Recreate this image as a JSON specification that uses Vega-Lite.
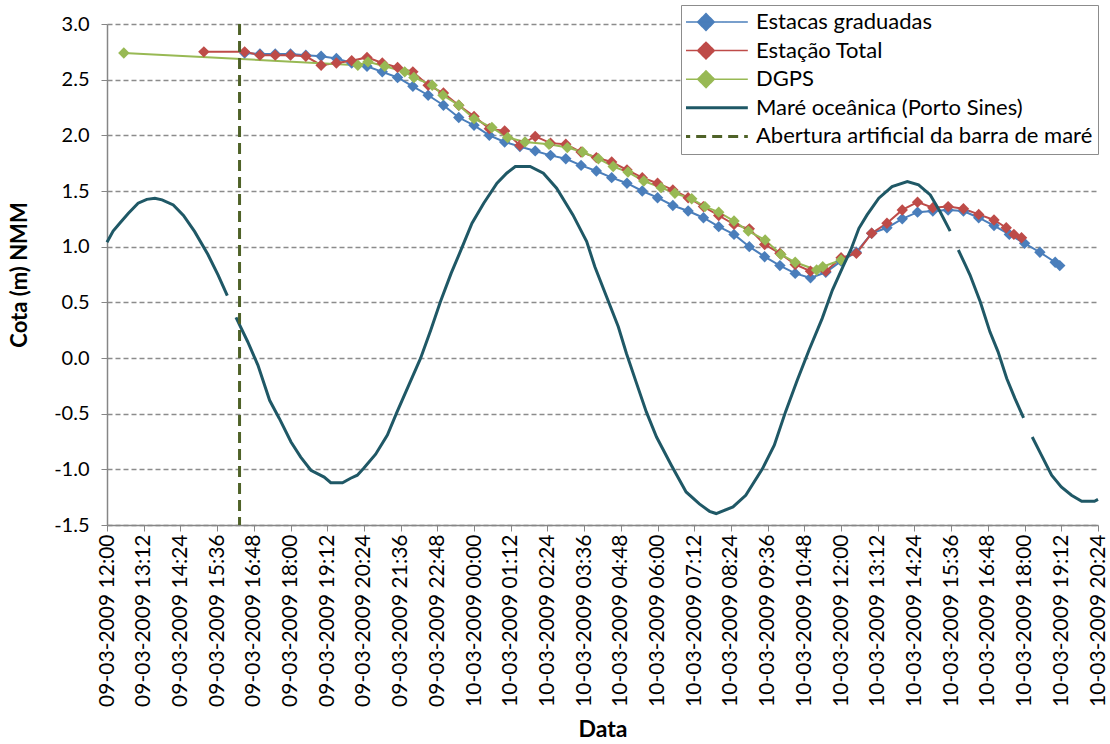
{
  "$schema": "https://vega.github.io/schema/vega-lite/v6.json",
  "width": 991,
  "height": 501,
  "autosize": "none",
  "padding": {"left": 107, "top": 24, "right": 12, "bottom": 219},
  "background": "white",
  "config": {"font": "Lato", "view": {"stroke": null}},
  "datasets": {
    "obs": [
      {"s": "Estacas graduadas", "t": "2009-03-09T16:30", "v": 2.74},
      {"s": "Estacas graduadas", "t": "2009-03-09T17:00", "v": 2.73},
      {"s": "Estacas graduadas", "t": "2009-03-09T17:30", "v": 2.73},
      {"s": "Estacas graduadas", "t": "2009-03-09T18:00", "v": 2.73},
      {"s": "Estacas graduadas", "t": "2009-03-09T18:30", "v": 2.72},
      {"s": "Estacas graduadas", "t": "2009-03-09T19:00", "v": 2.71},
      {"s": "Estacas graduadas", "t": "2009-03-09T19:30", "v": 2.69},
      {"s": "Estacas graduadas", "t": "2009-03-09T20:00", "v": 2.65},
      {"s": "Estacas graduadas", "t": "2009-03-09T20:30", "v": 2.62},
      {"s": "Estacas graduadas", "t": "2009-03-09T21:00", "v": 2.57},
      {"s": "Estacas graduadas", "t": "2009-03-09T21:30", "v": 2.52},
      {"s": "Estacas graduadas", "t": "2009-03-09T22:00", "v": 2.44},
      {"s": "Estacas graduadas", "t": "2009-03-09T22:30", "v": 2.36},
      {"s": "Estacas graduadas", "t": "2009-03-09T23:00", "v": 2.27},
      {"s": "Estacas graduadas", "t": "2009-03-09T23:30", "v": 2.16},
      {"s": "Estacas graduadas", "t": "2009-03-10T00:00", "v": 2.09},
      {"s": "Estacas graduadas", "t": "2009-03-10T00:30", "v": 2.00},
      {"s": "Estacas graduadas", "t": "2009-03-10T01:00", "v": 1.94},
      {"s": "Estacas graduadas", "t": "2009-03-10T01:30", "v": 1.90},
      {"s": "Estacas graduadas", "t": "2009-03-10T02:00", "v": 1.86},
      {"s": "Estacas graduadas", "t": "2009-03-10T02:30", "v": 1.82},
      {"s": "Estacas graduadas", "t": "2009-03-10T03:00", "v": 1.79},
      {"s": "Estacas graduadas", "t": "2009-03-10T03:30", "v": 1.73},
      {"s": "Estacas graduadas", "t": "2009-03-10T04:00", "v": 1.68},
      {"s": "Estacas graduadas", "t": "2009-03-10T04:30", "v": 1.62},
      {"s": "Estacas graduadas", "t": "2009-03-10T05:00", "v": 1.57},
      {"s": "Estacas graduadas", "t": "2009-03-10T05:30", "v": 1.50},
      {"s": "Estacas graduadas", "t": "2009-03-10T06:00", "v": 1.44},
      {"s": "Estacas graduadas", "t": "2009-03-10T06:30", "v": 1.37},
      {"s": "Estacas graduadas", "t": "2009-03-10T07:00", "v": 1.32},
      {"s": "Estacas graduadas", "t": "2009-03-10T07:30", "v": 1.26},
      {"s": "Estacas graduadas", "t": "2009-03-10T08:00", "v": 1.18},
      {"s": "Estacas graduadas", "t": "2009-03-10T08:30", "v": 1.11},
      {"s": "Estacas graduadas", "t": "2009-03-10T09:00", "v": 1.00},
      {"s": "Estacas graduadas", "t": "2009-03-10T09:30", "v": 0.91},
      {"s": "Estacas graduadas", "t": "2009-03-10T10:00", "v": 0.83},
      {"s": "Estacas graduadas", "t": "2009-03-10T10:30", "v": 0.76},
      {"s": "Estacas graduadas", "t": "2009-03-10T11:00", "v": 0.72},
      {"s": "Estacas graduadas", "t": "2009-03-10T11:30", "v": 0.77},
      {"s": "Estacas graduadas", "t": "2009-03-10T12:00", "v": 0.87},
      {"s": "Estacas graduadas", "t": "2009-03-10T12:30", "v": 0.95},
      {"s": "Estacas graduadas", "t": "2009-03-10T13:00", "v": 1.12},
      {"s": "Estacas graduadas", "t": "2009-03-10T13:30", "v": 1.17},
      {"s": "Estacas graduadas", "t": "2009-03-10T14:00", "v": 1.25},
      {"s": "Estacas graduadas", "t": "2009-03-10T14:30", "v": 1.31},
      {"s": "Estacas graduadas", "t": "2009-03-10T15:00", "v": 1.32},
      {"s": "Estacas graduadas", "t": "2009-03-10T15:30", "v": 1.33},
      {"s": "Estacas graduadas", "t": "2009-03-10T16:00", "v": 1.32},
      {"s": "Estacas graduadas", "t": "2009-03-10T16:30", "v": 1.26},
      {"s": "Estacas graduadas", "t": "2009-03-10T17:00", "v": 1.19},
      {"s": "Estacas graduadas", "t": "2009-03-10T17:30", "v": 1.11},
      {"s": "Estacas graduadas", "t": "2009-03-10T18:00", "v": 1.03},
      {"s": "Estacas graduadas", "t": "2009-03-10T18:30", "v": 0.95},
      {"s": "Estacas graduadas", "t": "2009-03-10T19:00", "v": 0.86},
      {"s": "Estacas graduadas", "t": "2009-03-10T19:09", "v": 0.83},
      {"s": "Estação Total", "t": "2009-03-09T15:10", "v": 2.75},
      {"s": "Estação Total", "t": "2009-03-09T16:30", "v": 2.75},
      {"s": "Estação Total", "t": "2009-03-09T17:00", "v": 2.72},
      {"s": "Estação Total", "t": "2009-03-09T17:30", "v": 2.72},
      {"s": "Estação Total", "t": "2009-03-09T18:00", "v": 2.72},
      {"s": "Estação Total", "t": "2009-03-09T18:30", "v": 2.71},
      {"s": "Estação Total", "t": "2009-03-09T19:00", "v": 2.63},
      {"s": "Estação Total", "t": "2009-03-09T19:30", "v": 2.65},
      {"s": "Estação Total", "t": "2009-03-09T20:00", "v": 2.67},
      {"s": "Estação Total", "t": "2009-03-09T20:30", "v": 2.70},
      {"s": "Estação Total", "t": "2009-03-09T21:00", "v": 2.65},
      {"s": "Estação Total", "t": "2009-03-09T21:30", "v": 2.61},
      {"s": "Estação Total", "t": "2009-03-09T22:00", "v": 2.57},
      {"s": "Estação Total", "t": "2009-03-09T22:30", "v": 2.45},
      {"s": "Estação Total", "t": "2009-03-09T23:00", "v": 2.38},
      {"s": "Estação Total", "t": "2009-03-09T23:30", "v": 2.27},
      {"s": "Estação Total", "t": "2009-03-10T00:00", "v": 2.17},
      {"s": "Estação Total", "t": "2009-03-10T00:30", "v": 2.06},
      {"s": "Estação Total", "t": "2009-03-10T01:00", "v": 2.04},
      {"s": "Estação Total", "t": "2009-03-10T01:30", "v": 1.91},
      {"s": "Estação Total", "t": "2009-03-10T02:00", "v": 1.99},
      {"s": "Estação Total", "t": "2009-03-10T02:30", "v": 1.93},
      {"s": "Estação Total", "t": "2009-03-10T03:00", "v": 1.92},
      {"s": "Estação Total", "t": "2009-03-10T03:30", "v": 1.85},
      {"s": "Estação Total", "t": "2009-03-10T04:00", "v": 1.80},
      {"s": "Estação Total", "t": "2009-03-10T04:30", "v": 1.76},
      {"s": "Estação Total", "t": "2009-03-10T05:00", "v": 1.69},
      {"s": "Estação Total", "t": "2009-03-10T05:30", "v": 1.62},
      {"s": "Estação Total", "t": "2009-03-10T06:00", "v": 1.57},
      {"s": "Estação Total", "t": "2009-03-10T06:30", "v": 1.51},
      {"s": "Estação Total", "t": "2009-03-10T07:00", "v": 1.44},
      {"s": "Estação Total", "t": "2009-03-10T07:30", "v": 1.36},
      {"s": "Estação Total", "t": "2009-03-10T08:00", "v": 1.28},
      {"s": "Estação Total", "t": "2009-03-10T08:30", "v": 1.20},
      {"s": "Estação Total", "t": "2009-03-10T09:00", "v": 1.16},
      {"s": "Estação Total", "t": "2009-03-10T09:30", "v": 1.02},
      {"s": "Estação Total", "t": "2009-03-10T10:00", "v": 0.94},
      {"s": "Estação Total", "t": "2009-03-10T10:30", "v": 0.84},
      {"s": "Estação Total", "t": "2009-03-10T11:00", "v": 0.78},
      {"s": "Estação Total", "t": "2009-03-10T11:30", "v": 0.78},
      {"s": "Estação Total", "t": "2009-03-10T12:00", "v": 0.90},
      {"s": "Estação Total", "t": "2009-03-10T12:30", "v": 0.94},
      {"s": "Estação Total", "t": "2009-03-10T13:00", "v": 1.12},
      {"s": "Estação Total", "t": "2009-03-10T13:30", "v": 1.21},
      {"s": "Estação Total", "t": "2009-03-10T14:00", "v": 1.33},
      {"s": "Estação Total", "t": "2009-03-10T14:30", "v": 1.40},
      {"s": "Estação Total", "t": "2009-03-10T15:00", "v": 1.35},
      {"s": "Estação Total", "t": "2009-03-10T15:30", "v": 1.36},
      {"s": "Estação Total", "t": "2009-03-10T16:00", "v": 1.34},
      {"s": "Estação Total", "t": "2009-03-10T16:30", "v": 1.29},
      {"s": "Estação Total", "t": "2009-03-10T17:00", "v": 1.24},
      {"s": "Estação Total", "t": "2009-03-10T17:24", "v": 1.17},
      {"s": "Estação Total", "t": "2009-03-10T17:39", "v": 1.11},
      {"s": "Estação Total", "t": "2009-03-10T17:54", "v": 1.08},
      {"s": "DGPS", "t": "2009-03-09T12:33", "v": 2.74},
      {"s": "DGPS", "t": "2009-03-09T20:12", "v": 2.63},
      {"s": "DGPS", "t": "2009-03-09T20:32", "v": 2.66},
      {"s": "DGPS", "t": "2009-03-09T21:05", "v": 2.62},
      {"s": "DGPS", "t": "2009-03-09T21:44", "v": 2.57},
      {"s": "DGPS", "t": "2009-03-09T22:02", "v": 2.52},
      {"s": "DGPS", "t": "2009-03-09T22:38", "v": 2.45},
      {"s": "DGPS", "t": "2009-03-09T22:59", "v": 2.36},
      {"s": "DGPS", "t": "2009-03-09T23:30", "v": 2.27},
      {"s": "DGPS", "t": "2009-03-10T00:00", "v": 2.15},
      {"s": "DGPS", "t": "2009-03-10T00:35", "v": 2.07},
      {"s": "DGPS", "t": "2009-03-10T01:06", "v": 1.98},
      {"s": "DGPS", "t": "2009-03-10T01:40", "v": 1.94},
      {"s": "DGPS", "t": "2009-03-10T02:27", "v": 1.92},
      {"s": "DGPS", "t": "2009-03-10T03:03", "v": 1.89},
      {"s": "DGPS", "t": "2009-03-10T03:33", "v": 1.85},
      {"s": "DGPS", "t": "2009-03-10T04:04", "v": 1.79},
      {"s": "DGPS", "t": "2009-03-10T04:33", "v": 1.72},
      {"s": "DGPS", "t": "2009-03-10T05:02", "v": 1.67},
      {"s": "DGPS", "t": "2009-03-10T05:33", "v": 1.59},
      {"s": "DGPS", "t": "2009-03-10T06:07", "v": 1.53},
      {"s": "DGPS", "t": "2009-03-10T06:34", "v": 1.48},
      {"s": "DGPS", "t": "2009-03-10T07:07", "v": 1.43},
      {"s": "DGPS", "t": "2009-03-10T07:33", "v": 1.36},
      {"s": "DGPS", "t": "2009-03-10T08:00", "v": 1.31},
      {"s": "DGPS", "t": "2009-03-10T08:30", "v": 1.23},
      {"s": "DGPS", "t": "2009-03-10T08:58", "v": 1.14},
      {"s": "DGPS", "t": "2009-03-10T09:31", "v": 1.06},
      {"s": "DGPS", "t": "2009-03-10T10:02", "v": 0.93},
      {"s": "DGPS", "t": "2009-03-10T10:30", "v": 0.86},
      {"s": "DGPS", "t": "2009-03-10T11:12", "v": 0.79},
      {"s": "DGPS", "t": "2009-03-10T11:24", "v": 0.82},
      {"s": "DGPS", "t": "2009-03-10T12:00", "v": 0.88}
    ],
    "tide": [
      {"g": 1, "t": "2009-03-09T12:00", "v": 1.04},
      {"g": 1, "t": "2009-03-09T12:12", "v": 1.14},
      {"g": 1, "t": "2009-03-09T12:25", "v": 1.21},
      {"g": 1, "t": "2009-03-09T12:42", "v": 1.30},
      {"g": 1, "t": "2009-03-09T13:01", "v": 1.39},
      {"g": 1, "t": "2009-03-09T13:18", "v": 1.425},
      {"g": 1, "t": "2009-03-09T13:34", "v": 1.435},
      {"g": 1, "t": "2009-03-09T13:48", "v": 1.42},
      {"g": 1, "t": "2009-03-09T14:10", "v": 1.375},
      {"g": 1, "t": "2009-03-09T14:30", "v": 1.28},
      {"g": 1, "t": "2009-03-09T14:52", "v": 1.135},
      {"g": 1, "t": "2009-03-09T15:18", "v": 0.93},
      {"g": 1, "t": "2009-03-09T15:38", "v": 0.745},
      {"g": 1, "t": "2009-03-09T15:56", "v": 0.56},
      {"g": 2, "t": "2009-03-09T16:13", "v": 0.365},
      {"g": 2, "t": "2009-03-09T16:36", "v": 0.146},
      {"g": 2, "t": "2009-03-09T16:56", "v": -0.064},
      {"g": 2, "t": "2009-03-09T17:19", "v": -0.38},
      {"g": 2, "t": "2009-03-09T17:38", "v": -0.543},
      {"g": 2, "t": "2009-03-09T18:01", "v": -0.754},
      {"g": 2, "t": "2009-03-09T18:20", "v": -0.89},
      {"g": 2, "t": "2009-03-09T18:40", "v": -1.008},
      {"g": 2, "t": "2009-03-09T19:06", "v": -1.07},
      {"g": 2, "t": "2009-03-09T19:19", "v": -1.12},
      {"g": 2, "t": "2009-03-09T19:42", "v": -1.12},
      {"g": 2, "t": "2009-03-09T19:58", "v": -1.08},
      {"g": 2, "t": "2009-03-09T20:11", "v": -1.053},
      {"g": 2, "t": "2009-03-09T20:24", "v": -0.987},
      {"g": 2, "t": "2009-03-09T20:47", "v": -0.864},
      {"g": 2, "t": "2009-03-09T21:10", "v": -0.693},
      {"g": 2, "t": "2009-03-09T21:29", "v": -0.484},
      {"g": 2, "t": "2009-03-09T21:52", "v": -0.244},
      {"g": 2, "t": "2009-03-09T22:15", "v": -0.004},
      {"g": 2, "t": "2009-03-09T22:35", "v": 0.25},
      {"g": 2, "t": "2009-03-09T22:54", "v": 0.505},
      {"g": 2, "t": "2009-03-09T23:15", "v": 0.76},
      {"g": 2, "t": "2009-03-09T23:33", "v": 0.955},
      {"g": 2, "t": "2009-03-09T23:56", "v": 1.21},
      {"g": 2, "t": "2009-03-10T00:19", "v": 1.39},
      {"g": 2, "t": "2009-03-10T00:45", "v": 1.57},
      {"g": 2, "t": "2009-03-10T01:04", "v": 1.66},
      {"g": 2, "t": "2009-03-10T01:21", "v": 1.72},
      {"g": 2, "t": "2009-03-10T01:50", "v": 1.72},
      {"g": 2, "t": "2009-03-10T02:16", "v": 1.66},
      {"g": 2, "t": "2009-03-10T02:42", "v": 1.525},
      {"g": 2, "t": "2009-03-10T03:14", "v": 1.285},
      {"g": 2, "t": "2009-03-10T03:41", "v": 1.045},
      {"g": 2, "t": "2009-03-10T03:57", "v": 0.82},
      {"g": 2, "t": "2009-03-10T04:20", "v": 0.55},
      {"g": 2, "t": "2009-03-10T04:43", "v": 0.28},
      {"g": 2, "t": "2009-03-10T04:59", "v": 0.04},
      {"g": 2, "t": "2009-03-10T05:19", "v": -0.23},
      {"g": 2, "t": "2009-03-10T05:38", "v": -0.484},
      {"g": 2, "t": "2009-03-10T05:58", "v": -0.71},
      {"g": 2, "t": "2009-03-10T06:27", "v": -0.963},
      {"g": 2, "t": "2009-03-10T06:56", "v": -1.203},
      {"g": 2, "t": "2009-03-10T07:22", "v": -1.31},
      {"g": 2, "t": "2009-03-10T07:42", "v": -1.377},
      {"g": 2, "t": "2009-03-10T07:55", "v": -1.397},
      {"g": 2, "t": "2009-03-10T08:28", "v": -1.338},
      {"g": 2, "t": "2009-03-10T08:53", "v": -1.233},
      {"g": 2, "t": "2009-03-10T09:26", "v": -0.993},
      {"g": 2, "t": "2009-03-10T09:49", "v": -0.783},
      {"g": 2, "t": "2009-03-10T10:11", "v": -0.484},
      {"g": 2, "t": "2009-03-10T10:34", "v": -0.2},
      {"g": 2, "t": "2009-03-10T10:57", "v": 0.07},
      {"g": 2, "t": "2009-03-10T11:23", "v": 0.356},
      {"g": 2, "t": "2009-03-10T11:43", "v": 0.61},
      {"g": 2, "t": "2009-03-10T12:05", "v": 0.835},
      {"g": 2, "t": "2009-03-10T12:19", "v": 0.97},
      {"g": 2, "t": "2009-03-10T12:35", "v": 1.165},
      {"g": 2, "t": "2009-03-10T12:51", "v": 1.285},
      {"g": 2, "t": "2009-03-10T13:14", "v": 1.435},
      {"g": 2, "t": "2009-03-10T13:40", "v": 1.54},
      {"g": 2, "t": "2009-03-10T14:10", "v": 1.585},
      {"g": 2, "t": "2009-03-10T14:32", "v": 1.555},
      {"g": 2, "t": "2009-03-10T14:55", "v": 1.465},
      {"g": 2, "t": "2009-03-10T15:14", "v": 1.315},
      {"g": 2, "t": "2009-03-10T15:34", "v": 1.14},
      {"g": 3, "t": "2009-03-10T15:50", "v": 0.97},
      {"g": 3, "t": "2009-03-10T16:04", "v": 0.835},
      {"g": 3, "t": "2009-03-10T16:13", "v": 0.745},
      {"g": 3, "t": "2009-03-10T16:33", "v": 0.505},
      {"g": 3, "t": "2009-03-10T16:52", "v": 0.235},
      {"g": 3, "t": "2009-03-10T17:08", "v": 0.055},
      {"g": 3, "t": "2009-03-10T17:25", "v": -0.184},
      {"g": 3, "t": "2009-03-10T17:41", "v": -0.363},
      {"g": 3, "t": "2009-03-10T17:58", "v": -0.538},
      {"g": 4, "t": "2009-03-10T18:15", "v": -0.71},
      {"g": 4, "t": "2009-03-10T18:33", "v": -0.873},
      {"g": 4, "t": "2009-03-10T18:53", "v": -1.053},
      {"g": 4, "t": "2009-03-10T19:12", "v": -1.158},
      {"g": 4, "t": "2009-03-10T19:32", "v": -1.233},
      {"g": 4, "t": "2009-03-10T19:52", "v": -1.287},
      {"g": 4, "t": "2009-03-10T20:17", "v": -1.287},
      {"g": 4, "t": "2009-03-10T20:24", "v": -1.27}
    ],
    "abertura": [
      {"t": "2009-03-09T16:20"}
    ]
  },
  "encoding": {
    "x": {
      "field": "t",
      "type": "temporal",
      "scale": {"domain": [
        {"year": 2009, "month": 3, "date": 9, "hours": 12, "minutes": 0},
        {"year": 2009, "month": 3, "date": 10, "hours": 20, "minutes": 24}
      ]},
      "axis": {
        "title": "Data",
        "values": [
          {"year": 2009, "month": 3, "date": 9, "hours": 12, "minutes": 0},
          {"year": 2009, "month": 3, "date": 9, "hours": 13, "minutes": 12},
          {"year": 2009, "month": 3, "date": 9, "hours": 14, "minutes": 24},
          {"year": 2009, "month": 3, "date": 9, "hours": 15, "minutes": 36},
          {"year": 2009, "month": 3, "date": 9, "hours": 16, "minutes": 48},
          {"year": 2009, "month": 3, "date": 9, "hours": 18, "minutes": 0},
          {"year": 2009, "month": 3, "date": 9, "hours": 19, "minutes": 12},
          {"year": 2009, "month": 3, "date": 9, "hours": 20, "minutes": 24},
          {"year": 2009, "month": 3, "date": 9, "hours": 21, "minutes": 36},
          {"year": 2009, "month": 3, "date": 9, "hours": 22, "minutes": 48},
          {"year": 2009, "month": 3, "date": 10, "hours": 0, "minutes": 0},
          {"year": 2009, "month": 3, "date": 10, "hours": 1, "minutes": 12},
          {"year": 2009, "month": 3, "date": 10, "hours": 2, "minutes": 24},
          {"year": 2009, "month": 3, "date": 10, "hours": 3, "minutes": 36},
          {"year": 2009, "month": 3, "date": 10, "hours": 4, "minutes": 48},
          {"year": 2009, "month": 3, "date": 10, "hours": 6, "minutes": 0},
          {"year": 2009, "month": 3, "date": 10, "hours": 7, "minutes": 12},
          {"year": 2009, "month": 3, "date": 10, "hours": 8, "minutes": 24},
          {"year": 2009, "month": 3, "date": 10, "hours": 9, "minutes": 36},
          {"year": 2009, "month": 3, "date": 10, "hours": 10, "minutes": 48},
          {"year": 2009, "month": 3, "date": 10, "hours": 12, "minutes": 0},
          {"year": 2009, "month": 3, "date": 10, "hours": 13, "minutes": 12},
          {"year": 2009, "month": 3, "date": 10, "hours": 14, "minutes": 24},
          {"year": 2009, "month": 3, "date": 10, "hours": 15, "minutes": 36},
          {"year": 2009, "month": 3, "date": 10, "hours": 16, "minutes": 48},
          {"year": 2009, "month": 3, "date": 10, "hours": 18, "minutes": 0},
          {"year": 2009, "month": 3, "date": 10, "hours": 19, "minutes": 12},
          {"year": 2009, "month": 3, "date": 10, "hours": 20, "minutes": 24}
        ],
        "format": "%d-%m-%Y %H:%M",
        "labelAngle": -90,
        "labelFont": "Lato",
        "labelFontSize": 21,
        "labelColor": "black",
        "labelPadding": 3,
        "labelOverlap": false,
        "labelFlush": false,
        "grid": false,
        "domainColor": "#868686",
        "domainWidth": 1.5,
        "tickColor": "#868686",
        "tickSize": 6,
        "titleFont": "Lato",
        "titleFontSize": 23,
        "titleFontWeight": "bold",
        "titleColor": "black",
        "titlePadding": 12
      }
    },
    "y": {
      "field": "v",
      "type": "quantitative",
      "scale": {"domain": [-1.5, 3], "nice": false, "zero": false},
      "axis": {
        "title": "Cota (m) NMM",
        "values": [-1.5, -1, -0.5, 0, 0.5, 1, 1.5, 2, 2.5, 3],
        "labelExpr": "replace(format(datum.value, '.1f'), '\u2212', '-')",
        "labelFont": "Lato",
        "labelFontSize": 20,
        "labelColor": "black",
        "labelPadding": 12,
        "grid": true,
        "gridColor": "#8c8c8c",
        "gridDash": [5, 3],
        "gridWidth": 1.3,
        "domainColor": "#868686",
        "domainWidth": 1.5,
        "tickColor": "#868686",
        "tickSize": 6,
        "titleFont": "Lato",
        "titleFontSize": 22,
        "titleFontWeight": "bold",
        "titleColor": "black",
        "titlePadding": 22
      }
    }
  },
  "layer": [
    {
      "data": {"name": "obs"},
      "mark": {"type": "line", "strokeWidth": 2},
      "encoding": {
        "color": {
          "field": "s",
          "type": "nominal",
          "scale": {
            "domain": ["Estacas graduadas", "Estação Total", "DGPS", "Maré oceânica (Porto Sines)", "Abertura artificial da barra de maré"],
            "range": ["#4A7EBB", "#BE4B48", "#98B954", "#1F5866", "#4F6228"]
          },
          "legend": {
            "title": null,
            "orient": "none",
            "legendX": 574,
            "legendY": -19,
            "symbolType": "stroke",
            "symbolSize": 7000,
            "symbolOffset": 9,
            "clipHeight": 24,
            "rowPadding": 4.6,
            "labelFont": "Lato",
            "labelFontSize": 22,
            "labelColor": "black",
            "labelLimit": 600,
            "labelOffset": 39,
            "padding": 5,
            "strokeColor": "#8c8c8c",
            "fillColor": "white",
            "encode": {
              "symbols": {
                "update": {
                  "shape": {"signal": "(datum.value == 'Maré oceânica (Porto Sines)' || datum.value == 'Abertura artificial da barra de maré') ? 'stroke' : 'M-1,0L1,0M0,-0.2L0.2,0L0,0.2L-0.2,0Z'"},
                  "strokeDash": {"signal": "datum.value == 'Abertura artificial da barra de maré' ? [10, 6] : [1, 0]"},
                  "strokeWidth": {"signal": "(datum.value == 'Maré oceânica (Porto Sines)' || datum.value == 'Abertura artificial da barra de maré') ? 3 : 1.5"},
                  "fill": {"scale": "color", "field": "value"},
                  "stroke": {"scale": "color", "field": "value"},
                  "opacity": {"value": 1},
                  "fillOpacity": {"value": 1},
                  "strokeOpacity": {"value": 1}
                }
              }
            }
          }
        }
      }
    },
    {
      "data": {"name": "obs"},
      "mark": {"type": "point", "shape": "diamond", "filled": true, "size": 130, "opacity": 1},
      "encoding": {
        "color": {
          "field": "s",
          "type": "nominal",
          "legend": {
            "title": null,
            "orient": "none",
            "legendX": 574,
            "legendY": -19,
            "symbolType": "stroke",
            "symbolSize": 7000,
            "symbolOffset": 9,
            "clipHeight": 24,
            "rowPadding": 4.6,
            "labelFont": "Lato",
            "labelFontSize": 22,
            "labelColor": "black",
            "labelLimit": 600,
            "labelOffset": 39,
            "padding": 5,
            "strokeColor": "#8c8c8c",
            "fillColor": "white",
            "encode": {
              "symbols": {
                "update": {
                  "shape": {"signal": "(datum.value == 'Maré oceânica (Porto Sines)' || datum.value == 'Abertura artificial da barra de maré') ? 'stroke' : 'M-1,0L1,0M0,-0.2L0.2,0L0,0.2L-0.2,0Z'"},
                  "strokeDash": {"signal": "datum.value == 'Abertura artificial da barra de maré' ? [10, 6] : [1, 0]"},
                  "strokeWidth": {"signal": "(datum.value == 'Maré oceânica (Porto Sines)' || datum.value == 'Abertura artificial da barra de maré') ? 3 : 1.5"},
                  "fill": {"scale": "color", "field": "value"},
                  "stroke": {"scale": "color", "field": "value"},
                  "opacity": {"value": 1},
                  "fillOpacity": {"value": 1},
                  "strokeOpacity": {"value": 1}
                }
              }
            }
          }
        }
      }
    },
    {
      "data": {"name": "tide"},
      "mark": {"type": "line", "strokeWidth": 3, "color": "#1F5866"},
      "encoding": {
        "detail": {"field": "g", "type": "nominal"}
      }
    },
    {
      "data": {"name": "abertura"},
      "mark": {"type": "rule", "strokeWidth": 3, "strokeDash": [11, 6], "color": "#4F6228"},
      "encoding": {
        "y": null
      }
    }
  ]
}
